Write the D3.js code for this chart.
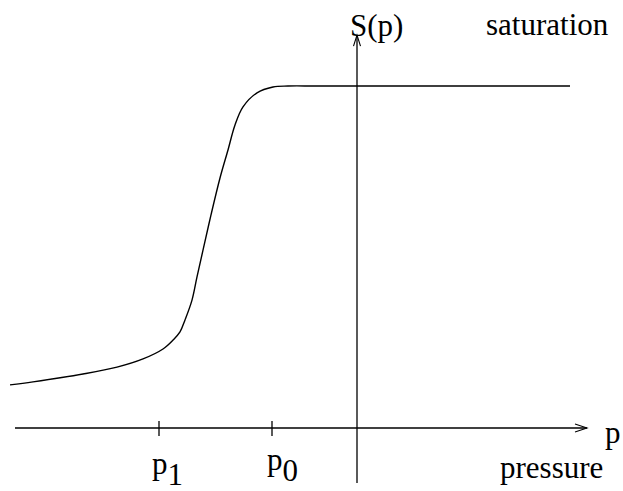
<!DOCTYPE html>
<meta charset="utf-8">
<script src="https://d3js.org/d3.v7.min.js"></script>
<style>
  body { margin: 0; background: #fff; }
  text { font-family: "Liberation Serif", "Times New Roman", serif; font-size: 31px; fill: #000; }
</style>
<div id="chart"></div>
<script>
  // curve S(p)
  const pressure = [-3.47, -3.24, -2.74, -2.40, -2.14, -1.94, -1.84, -1.77, -1.72, -1.65, -1.60, -1.54,
                    -1.46, -1.37, -1.29, -1.22, -1.14, -1.00, -0.84, -0.69, -0.40, 0.60, 2.13];
  const saturation = [0.126, 0.135, 0.158, 0.178, 0.202, 0.231, 0.257, 0.281, 0.316, 0.374, 0.442, 0.520,
                      0.623, 0.731, 0.813, 0.886, 0.939, 0.980, 0.997, 1.0, 1.0, 1.0, 1.0];
  const tickValues = [-1.98, -0.85];
  const tickSubs = ["1", "0"];

  const width = 623, height = 491;
  const svg = d3.select('#chart').append('svg')
                .attr('width', width)
                .attr('height', height);

  const x = d3.scaleLinear().domain([-3.47, 2.30]).range([10, 587]);
  const y = d3.scaleLinear().domain([0, 1]).range([428, 86]);

  const ink = "#000";

  // horizontal axis
  const x0 = x(-3.42), x1 = x(2.30), yAxis = y(0);
  svg.append("line").attr("x1", x0).attr("x2", x1).attr("y1", yAxis).attr("y2", yAxis)
     .attr("stroke", ink).attr("stroke-width", 1.3);
  svg.append("path")
     .attr("d", `M${x1 - 12},${yAxis - 4}L${x1},${yAxis}L${x1 - 12},${yAxis + 4}`)
     .attr("fill", "none").attr("stroke", ink).attr("stroke-width", 1.1);

  // vertical axis
  const xAxis = x(0), yTop = y(1.149), yBot = y(-0.161);
  svg.append("line").attr("x1", xAxis).attr("x2", xAxis).attr("y1", yBot).attr("y2", yTop)
     .attr("stroke", ink).attr("stroke-width", 1.3);
  svg.append("path")
     .attr("d", `M${xAxis - 3.5},${yTop + 11}L${xAxis},${yTop}L${xAxis + 3.5},${yTop + 11}`)
     .attr("fill", "none").attr("stroke", ink).attr("stroke-width", 1.1);

  // ticks
  svg.selectAll(".tick").data(tickValues).enter().append("line")
     .attr("class", "tick")
     .attr("x1", d => x(d)).attr("x2", d => x(d))
     .attr("y1", yAxis - 7).attr("y2", yAxis + 8)
     .attr("stroke", ink).attr("stroke-width", 1.3);

  // tick labels p1, p0
  const lbl = svg.selectAll(".tlabel").data(tickValues).enter().append("text")
     .attr("class", "tlabel")
     .attr("x", (d, i) => x(d) + (i === 0 ? -7 : -5))
     .attr("y", (d, i) => i === 0 ? 474 : 470);
  lbl.append("tspan").text("p");
  lbl.append("tspan").attr("dy", 11).text((d, i) => tickSubs[i]);

  // curve
  const line = d3.line()
     .x((d, i) => x(pressure[i]))
     .y(d => y(d))
     .curve(d3.curveCatmullRom.alpha(0.5));
  svg.append("path")
     .datum(saturation)
     .attr("d", line)
     .attr("fill", "none")
     .attr("stroke", ink)
     .attr("stroke-width", 1.4);

  // labels
  svg.append("text").attr("x", 350).attr("y", 36).text("S(p)");
  svg.append("text").attr("x", 486).attr("y", 35).text("saturation");
  svg.append("text").attr("x", 605).attr("y", 443).text("p");
  svg.append("text").attr("x", 500).attr("y", 478).text("pressure");
</script>
